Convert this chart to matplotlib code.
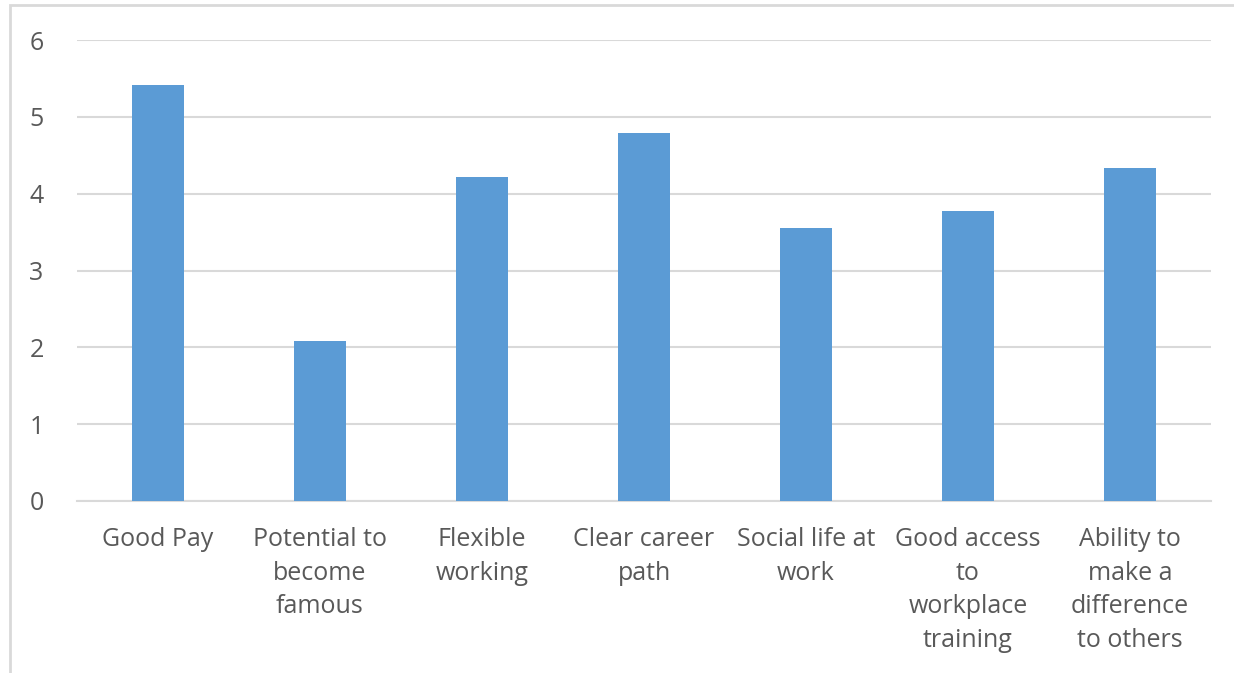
import matplotlib
matplotlib.use("Agg")
import matplotlib.pyplot as plt
from matplotlib.patches import Rectangle

categories = ["Good Pay", "Potential to\nbecome\nfamous", "Flexible\nworking",
              "Clear career\npath", "Social life at\nwork", "Good access\nto\nworkplace\ntraining",
              "Ability to\nmake a\ndifference\nto others"]
values = [5.41, 2.08, 4.22, 4.79, 3.55, 3.78, 4.34]
yticks = [0, 1, 2, 3, 4, 5, 6]

plt.rcParams['font.family'] = ['Open Sans', 'DejaVu Sans']

W, H = 1234, 673
fig = plt.figure(figsize=(W / 100, H / 100), dpi=100)
ax = fig.add_axes([77 / W, 1 - 501 / H, (1211 - 77) / W, (501 - 40) / H])

x = range(len(categories))
ax.bar(x, values, width=0.315, color="#5b9bd5", zorder=3)

ax.set_xlim(-0.5, len(categories) - 0.5)
ax.set_ylim(0, 6)
ax.set_yticks(yticks)
ax.set_xticks(list(x))
ax.set_xticklabels(categories, linespacing=1.45, va="top", fontsize=18.5)
ax.tick_params(axis="both", length=0, labelsize=18, colors="#595959")
ax.tick_params(axis="x", pad=19)
ax.tick_params(axis="y", pad=24)
ax.grid(axis="y", color="#d9d9d9", linewidth=1.5, zorder=0)
for s in ["top", "right", "left"]:
    ax.spines[s].set_visible(False)
ax.spines["bottom"].set_color("#d9d9d9")
ax.spines["bottom"].set_linewidth(1.5)

# outer chart frame
fig.patches.append(Rectangle((10 / W, -0.1), 1.2, 1 - 5 / H + 0.1, transform=fig.transFigure,
                             fill=False, edgecolor="#d9d9d9", linewidth=2))

fig.savefig("out.png", dpi=100)
